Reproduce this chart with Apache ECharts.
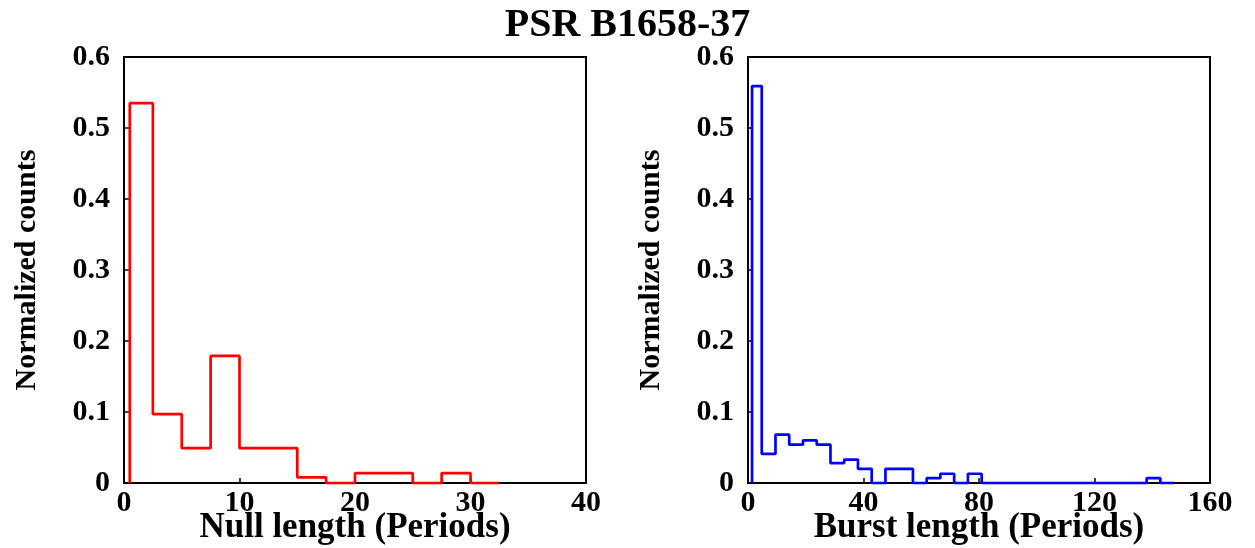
<!DOCTYPE html>
<html>
<head>
<meta charset="utf-8">
<script src="https://cdn.jsdelivr.net/npm/echarts@6/dist/echarts.min.js"></script>
<style>
html,body{margin:0;padding:0;background:#fff;}
#chart{width:1255px;height:548px;}
</style>
</head>
<body>
<div id="chart"></div>
<script>
// ---- Data ----
var titleText = 'PSR B1658-37';
var yTicks = [0, 0.1, 0.2, 0.3, 0.4, 0.5, 0.6];
var nullTicks = [0, 10, 20, 30, 40];
var burstTicks = [0, 40, 80, 120, 160];

// Null length histogram: bin edges and normalized counts
var nullEdges = [0.5, 2.5, 5, 7.5, 10, 12.5, 15, 17.5, 20, 22.5, 25, 27.5, 30, 32.5];
var nullCounts = [0.535, 0.097, 0.049, 0.179, 0.049, 0.049, 0.008, 0, 0.014, 0.014, 0, 0.014, 0];

// Burst length histogram: bin edges and normalized counts
var burstEdges = [1.4, 4.76, 9.52, 14.28, 19.04, 23.8, 28.56, 33.32, 38.08, 42.84, 47.6,
  52.36, 57.12, 61.88, 66.64, 71.4, 76.16, 80.92, 85.68, 90.44, 95.2, 99.96, 104.72,
  109.48, 114.24, 119, 123.76, 128.52, 133.28, 138.04, 142.8, 147.56];
var burstCounts = [0.559, 0.041, 0.068, 0.054, 0.060, 0.054, 0.028, 0.033, 0.020, 0,
  0.020, 0.020, 0, 0.007, 0.013, 0, 0.013, 0, 0, 0, 0, 0, 0, 0, 0, 0, 0, 0, 0, 0.007, 0];

// ---- Build step outline from edges/counts ----
function stepPoints(edges, counts) {
  var pts = [[edges[0], 0]];
  for (var i = 0; i < counts.length; i++) {
    pts.push([edges[i], counts[i]]);
    pts.push([edges[i + 1], counts[i]]);
  }
  pts.push([edges[edges.length - 1], 0]);
  return pts;
}

var FONT = "'Liberation Serif', 'Times New Roman', serif";
var tickFont = {fontFamily: FONT, fontWeight: 'bold', fontSize: 30, color: '#000'};
var nameFont = {fontFamily: FONT, fontWeight: 'bold', fontSize: 35, color: '#000'};
var yNameFont = {fontFamily: FONT, fontWeight: 'bold', fontSize: 30, color: '#000'};

function yFmt(v) { return v === 0 ? '0' : v.toFixed(1); }

function xAxisCfg(idx, ticks, name) {
  return {
    type: 'value', gridIndex: idx,
    min: ticks[0], max: ticks[ticks.length - 1], interval: ticks[1] - ticks[0],
    name: name, nameLocation: 'middle', nameGap: 27, nameMoveOverlap: false, nameTextStyle: nameFont,
    axisLine: {show: true, onZero: false, lineStyle: {color: '#000', width: 2}},
    axisTick: {show: true, inside: true, length: 5, lineStyle: {color: '#000', width: 1.5}},
    axisLabel: Object.assign({margin: 5}, tickFont),
    splitLine: {show: false}
  };
}
function yAxisCfg(idx) {
  return {
    type: 'value', gridIndex: idx,
    min: yTicks[0], max: yTicks[yTicks.length - 1], interval: yTicks[1] - yTicks[0],
    name: 'Normalized counts', nameLocation: 'middle', nameGap: 82, nameMoveOverlap: false, nameTextStyle: yNameFont,
    axisLine: {show: true, lineStyle: {color: '#000', width: 2}},
    axisTick: {show: true, inside: true, length: 5, lineStyle: {color: '#000', width: 1.5}},
    axisLabel: Object.assign({margin: 14, formatter: yFmt}, tickFont),
    splitLine: {show: false}
  };
}

var chart = echarts.init(document.getElementById('chart'), null, {renderer: 'canvas'});
chart.setOption({
  animation: false,
  backgroundColor: '#fff',
  title: {
    text: titleText, left: 'center', top: 1,
    textStyle: {fontFamily: FONT, fontWeight: 'bold', fontSize: 40, color: '#000'}
  },
  grid: [
    {left: 124, top: 57, width: 462, height: 426, show: true, borderColor: '#000', borderWidth: 2,
      backgroundColor: 'transparent', containLabel: false, outerBoundsMode: 'none'},
    {left: 748, top: 57, width: 462, height: 426, show: true, borderColor: '#000', borderWidth: 2,
      backgroundColor: 'transparent', containLabel: false, outerBoundsMode: 'none'}
  ],
  xAxis: [xAxisCfg(0, nullTicks, 'Null length (Periods)'), xAxisCfg(1, burstTicks, 'Burst length (Periods)')],
  yAxis: [yAxisCfg(0), yAxisCfg(1)],
  series: [
    {type: 'line', xAxisIndex: 0, yAxisIndex: 0, data: stepPoints(nullEdges, nullCounts),
      symbol: 'none', lineStyle: {color: '#ff0000', width: 2.7}, itemStyle: {color: '#ff0000'}, clip: false},
    {type: 'line', xAxisIndex: 1, yAxisIndex: 1, data: stepPoints(burstEdges, burstCounts),
      symbol: 'none', lineStyle: {color: '#0000ff', width: 2.7}, itemStyle: {color: '#0000ff'}, clip: false}
  ]
});
</script>
</body>
</html>
